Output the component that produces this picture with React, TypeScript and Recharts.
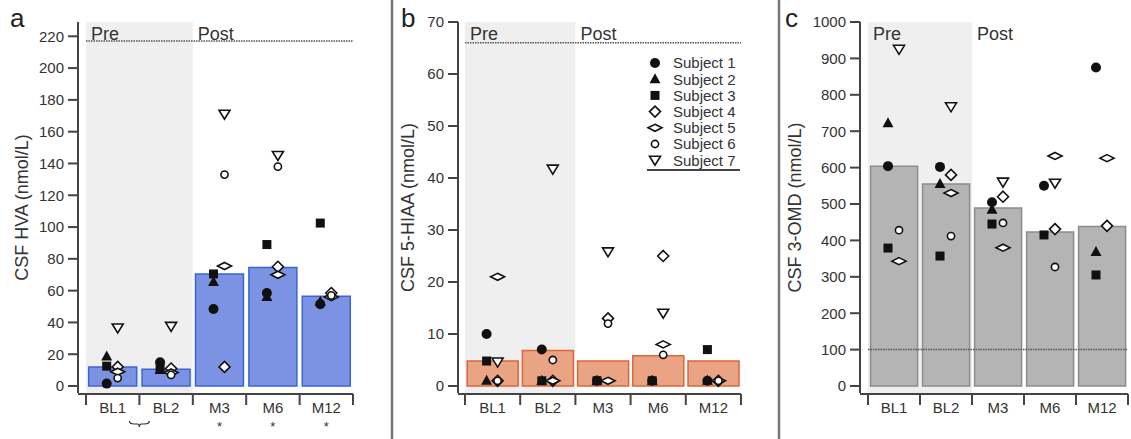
import { ComposedChart, Bar, Scatter, XAxis, YAxis, ReferenceArea, ReferenceLine } from 'recharts'

// ---- shared ----
const categories = ['BL1', 'BL2', 'M3', 'M6', 'M12']
const boundaries = [0, 1, 2, 3, 4, 5]
const subjectNames = ['Subject 1', 'Subject 2', 'Subject 3', 'Subject 4', 'Subject 5', 'Subject 6', 'Subject 7']

// ---- a: CSF HVA (nmol/L) ----
const hvaMean = [12, 10.5, 70.5, 74.5, 56.5]
const hvaSubjects = [
    [1.5, 15, 48.5, 58.5, 51.5],
    [18.5, 10, 65.5, 56, 53],
    [12.5, 11, 70.5, 89, 102.5],
    [12, 11, 12, 75, 58.5],
    [9, 8.5, 75.5, 70, 56],
    [5, 7, 133, 138, 57],
    [36.5, 37.5, 171, 145, null],
]
const hvaTicks = [0, 20, 40, 60, 80, 100, 120, 140, 160, 180, 200, 220]
const hvaSig = ['', '', '*', '*', '*']

// ---- b: CSF 5-HIAA (nmol/L) ----
const hiaaMean = [4.8, 6.8, 4.8, 5.8, 4.8]
const hiaaSubjects = [
    [10, 7, 1, 1, 1],
    [1, 1, 1, 1, 1],
    [4.8, 1, 1, 1, 7],
    [1, 1, 13, 25, 1],
    [21, 1, 1, 8, 1],
    [1, 5, 12, 6, 1],
    [4.6, 41.7, 25.8, 14, null],
]
const hiaaTicks = [0, 10, 20, 30, 40, 50, 60, 70]

// ---- c: CSF 3-OMD (nmol/L) ----
const omdMean = [604, 555, 489, 423, 438]
const omdSubjects = [
    [604, 602, 505, 550, 875],
    [722, 555, 484, null, 368],
    [379, 357, 445, 415, 305],
    [null, 580, 520, 431, 440],
    [343, 530, 380, 632, 626],
    [428, 412, 448, 327, null],
    [925, 767, 560, 557, null],
]
const omdTicks = [0, 100, 200, 300, 400, 500, 600, 700, 800, 900, 1000]

const FONT = '"Liberation Sans", Arial, Helvetica, sans-serif'
const INK = '#333'
const AXIS = '#444'
const markerKinds = ['circle', 'triangle', 'square', 'diamond', 'flat', 'ring', 'tdown']
const markerDx = [-6, -6, -6, 5, 5, 5, 5]

function Marker({ kind, x, y }: { kind: string; x: number; y: number }) {
    const open = { fill: '#fff', stroke: '#111', strokeWidth: 1.6 }
    switch (kind) {
        case 'circle':
            return <circle cx={x} cy={y} r={5} fill="#111" />
        case 'triangle':
            return <polygon points={`${x},${y - 6} ${x + 5.5},${y + 4} ${x - 5.5},${y + 4}`} fill="#111" />
        case 'square':
            return <rect x={x - 4.5} y={y - 4.5} width={9} height={9} fill="#111" />
        case 'diamond':
            return <polygon points={`${x},${y - 5.5} ${x + 5.5},${y} ${x},${y + 5.5} ${x - 5.5},${y}`} {...open} />
        case 'flat':
            return <polygon points={`${x},${y - 3.5} ${x + 7},${y} ${x},${y + 3.5} ${x - 7},${y}`} {...open} />
        case 'ring':
            return <circle cx={x} cy={y} r={3.6} {...open} />
        default:
            return <polygon points={`${x - 5.5},${y - 4} ${x + 5.5},${y - 4} ${x},${y + 5}`} {...open} />
    }
}

interface PanelProps {
    left: number
    width: number
    yWidth: number
    marginRight: number
    pad: number
    domain: [number, number]
    ticks: number[]
    mean: number[]
    subjects: (number | null)[][]
    fill: string
    stroke: string
    refY: number
    yLabel: string
    labelOffset: number
    gap: string
    sig?: string[]
    brace?: boolean
}

function Panel(p: PanelProps) {
    const rows = categories.map((cat, i) => {
        const row: Record<string, string | number | null> = { cat, idx: i, mean: p.mean[i] }
        p.subjects.forEach((s, k) => { row['s' + (k + 1)] = s[i] })
        return row
    })

    const catTick = (t: any) => {
        const i = categories.indexOf(t.payload.value)
        return (
            <g>
                <text x={t.x} y={t.y} dy="0.71em" textAnchor="middle" fontSize={15} fill={INK}>{t.payload.value}</text>
                {p.sig && p.sig[i] ? (
                    <text x={t.x} y={t.y + 29} textAnchor="middle" fontSize={13} fill={INK}>{p.sig[i]}</text>
                ) : null}
            </g>
        )
    }

    const gridTick = (t: any) => {
        if (!p.brace || t.payload.value !== 1) return <g />
        const x = t.x
        const y = t.y + 14
        return (
            <path
                d={`M${x - 10},${y} Q${x - 10},${y + 3} ${x - 5},${y + 3} L${x - 2},${y + 3} Q${x},${y + 3} ${x},${y + 6} Q${x},${y + 3} ${x + 2},${y + 3} L${x + 5},${y + 3} Q${x + 10},${y + 3} ${x + 10},${y}`}
                fill="none" stroke={INK} strokeWidth={1.2}
            />
        )
    }

    return (
        <div style={{ position: 'absolute', left: p.left, top: 0 }}>
            <ComposedChart
                width={p.width}
                height={439}
                data={rows}
                margin={{ top: 22, right: p.marginRight, left: 0, bottom: 16 }}
                barCategoryGap={p.gap}
            >
                <XAxis
                    xAxisId="grid"
                    dataKey="idx"
                    type="number"
                    domain={[0, 5]}
                    allowDataOverflow
                    ticks={boundaries}
                    interval={0}
                    padding={{ left: p.pad, right: 0 }}
                    height={29}
                    tick={gridTick}
                    tickSize={11}
                    axisLine={{ stroke: AXIS, strokeWidth: 2 }}
                    tickLine={{ stroke: AXIS, strokeWidth: 2 }}
                />
                <XAxis
                    dataKey="cat"
                    padding={{ left: p.pad, right: 0 }}
                    height={1}
                    axisLine={false}
                    tickLine={false}
                    tickMargin={3}
                    interval={0}
                    tick={catTick}
                />
                <YAxis
                    width={p.yWidth}
                    domain={p.domain}
                    ticks={p.ticks}
                    interval={0}
                    tickSize={10}
                    tickMargin={4}
                    tick={{ fontSize: 15, fill: INK }}
                    axisLine={{ stroke: AXIS, strokeWidth: 2 }}
                    tickLine={{ stroke: AXIS, strokeWidth: 2 }}
                    label={{
                        value: p.yLabel,
                        angle: -90,
                        position: 'insideLeft',
                        offset: p.labelOffset,
                        fontSize: 18,
                        fill: INK,
                        style: { textAnchor: 'middle' },
                    }}
                />
                <ReferenceArea
                    x1="BL1" x2="BL2"
                    fill="#efefef" fillOpacity={1} stroke="none"
                    label={{ value: 'Pre', position: 'insideTopLeft', offset: 5, fontSize: 18, fill: INK }}
                />
                <ReferenceArea
                    x1="M3" x2="M12"
                    fill="#fff" fillOpacity={0} stroke="none"
                    label={{ value: 'Post', position: 'insideTopLeft', offset: 5, fontSize: 18, fill: INK }}
                />
                <Bar dataKey="mean" fill={p.fill} stroke={p.stroke} strokeWidth={1.5} isAnimationActive={false} />
                <ReferenceLine
                    xAxisId="grid"
                    segment={[{ x: 0, y: p.refY }, { x: 5, y: p.refY }]}
                    stroke="#555"
                    strokeWidth={1.5}
                    strokeDasharray="1.5 1"
                />
                {markerKinds.map((kind, k) => (
                    <Scatter
                        key={kind}
                        dataKey={'s' + (k + 1)}
                        isAnimationActive={false}
                        shape={(s: any) => {
                            const v = s.payload ? s.payload['s' + (k + 1)] : null
                            if (v == null || !Number.isFinite(s.cx) || !Number.isFinite(s.cy)) return <g />
                            return <Marker kind={kind} x={s.cx + markerDx[k]} y={s.cy} />
                        }}
                    />
                ))}
            </ComposedChart>
        </div>
    )
}

function SubjectLegend() {
    return (
        <svg width={100} height={125} style={{ position: 'absolute', left: 645, top: 52 }}>
            {subjectNames.map((name, i) => (
                <g key={name}>
                    <Marker kind={markerKinds[i]} x={10} y={11 + i * 16.2} />
                    <text x={28} y={11 + i * 16.2} dy="0.36em" fontSize={15} fill={INK} fontFamily={FONT}>{name}</text>
                </g>
            ))}
            <line x1={2} x2={95} y1={118} y2={118} stroke={AXIS} strokeWidth={2} />
        </svg>
    )
}

export default function App() {
    return (
        <div style={{ position: 'absolute', left: 0, top: 0, width: 1131, height: 439, background: '#fff', fontFamily: FONT }}>
            <svg width={1131} height={439} style={{ position: 'absolute', left: 0, top: 0 }}>
                <line x1={392} x2={392} y1={0} y2={439} stroke="#777" strokeWidth={2.5} />
                <line x1={779} x2={779} y1={0} y2={439} stroke="#777" strokeWidth={2.5} />
                <text x={10} y={27} fontSize={26} fill="#222" fontFamily={FONT}>a</text>
                <text x={401} y={27} fontSize={26} fill="#222" fontFamily={FONT}>b</text>
                <text x={785} y={27} fontSize={26} fill="#222" fontFamily={FONT}>c</text>
            </svg>
            <Panel
                left={0} width={360} yWidth={78} marginRight={7} pad={8}
                domain={[-4.4, 229]} ticks={hvaTicks}
                mean={hvaMean} subjects={hvaSubjects}
                fill="#7c93e3" stroke="#3d63db" refY={217}
                yLabel="CSF HVA (nmol/L)" labelOffset={22} gap="5%"
                sig={hvaSig} brace
            />
            <Panel
                left={390} width={390} yWidth={68} marginRight={39} pad={7}
                domain={[-1.35, 70]} ticks={hiaaTicks}
                mean={hiaaMean} subjects={hiaaSubjects}
                fill="#eba483" stroke="#d9673a" refY={66}
                yLabel="CSF 5-HIAA (nmol/L)" labelOffset={18} gap="4%"
            />
            <Panel
                left={780} width={351} yWidth={80} marginRight={3} pad={8}
                domain={[-19.2, 1000]} ticks={omdTicks}
                mean={omdMean} subjects={omdSubjects}
                fill="#b4b4b4" stroke="#8c8c8c" refY={100}
                yLabel="CSF 3-OMD (nmol/L)" labelOffset={15} gap="5%"
            />
            <SubjectLegend />
        </div>
    )
}
